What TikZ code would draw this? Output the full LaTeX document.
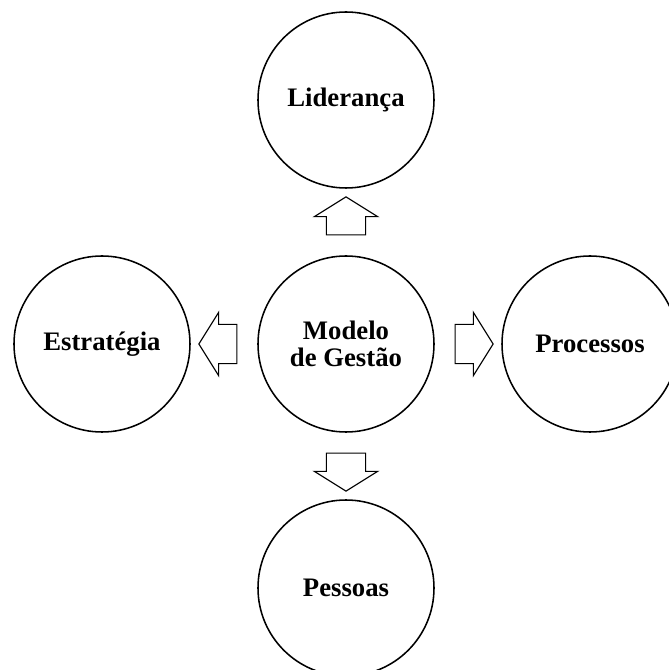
\documentclass[tikz,border=0pt]{standalone}
\usepackage{fontspec}
\setmainfont{Liberation Serif}
\usetikzlibrary{positioning,shapes.arrows}

\begin{document}
\begin{tikzpicture}[
     concept/.style={circle, draw, line width=1.1pt, minimum size=4.4cm, inner sep=0pt, align=center, font=\fontsize{19}{19.2}\selectfont\bfseries},
     bloco/.style={single arrow, draw, line width=0.8pt, minimum height=0.95cm, minimum width=1.58cm, inner xsep=0pt, inner ysep=0.475cm, single arrow head extend=0.3cm, single arrow tip angle=116, sloped, allow upside down}]

     \useasboundingbox (-8.65,-8.15) rectangle (8.075,8.6);

     \begin{scope}[node distance=6.1cm, on grid]
     \node[concept](Gestao) {Modelo\\de Gestão};
     \node[concept, above=of Gestao](Lideranca) {Liderança};
     \node[concept, left=of Gestao](Estrategia) {Estratégia};
     \node[concept, right=of Gestao](Processos) {Processos};
     \node[concept, below=of Gestao](Pessoas) {Pessoas};
     \end{scope}

     % setas de bloco entre os círculos
     \path (Gestao) -- node[bloco] {} (Lideranca);
     \path (Gestao) -- node[bloco] {} (Estrategia);
     \path (Gestao) -- node[bloco] {} (Processos);
     \path (Gestao) -- node[bloco] {} (Pessoas);
\end{tikzpicture}
\end{document}
